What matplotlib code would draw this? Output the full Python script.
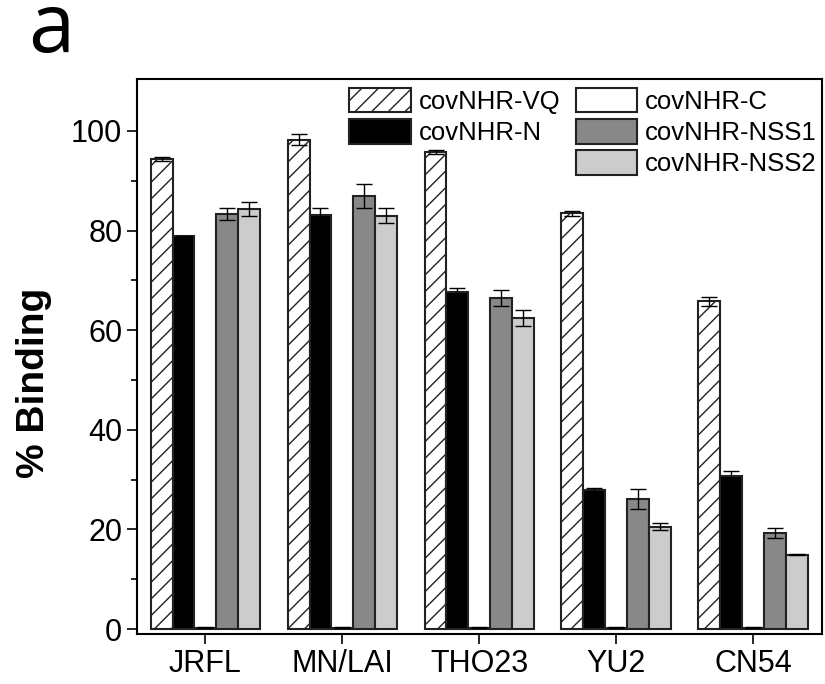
import numpy as np
import matplotlib
matplotlib.use('Agg')
import matplotlib.pyplot as plt
from matplotlib.patches import Rectangle

plt.rcParams['font.family'] = ['Liberation Sans', 'DejaVu Sans']
plt.rcParams['hatch.color'] = '#555555'
plt.rcParams['hatch.linewidth'] = 1.0

strains = ['JRFL', 'MN/LAI', 'THO23', 'YU2', 'CN54']
series = ['covNHR-VQ', 'covNHR-N', 'covNHR-C', 'covNHR-NSS1', 'covNHR-NSS2']

vq = [94.3, 98.2, 95.7, 83.5, 65.8]
vq_err = [0.4, 1.1, 0.4, 0.5, 0.9]
n = [78.9, 83.2, 67.7, 28.0, 30.7]
n_err = [0.1, 1.3, 0.8, 0.3, 1.0]
c = [0.3, 0.3, 0.3, 0.3, 0.3]
c_err = [0.1, 0.1, 0.1, 0.1, 0.1]
nss1 = [83.4, 87.0, 66.5, 26.1, 19.3]
nss1_err = [1.2, 2.4, 1.6, 2.0, 1.0]
nss2 = [84.3, 83.0, 62.5, 20.5, 14.9]
nss2_err = [1.4, 1.5, 1.6, 0.7, 0.1]

values = [vq, n, c, nss1, nss2]
errors = [vq_err, n_err, c_err, nss1_err, nss2_err]
faces = ['white', 'black', 'white', '#888888', '#cccccc']
hatches = ['//', None, None, None, None]

fig = plt.figure(figsize=(8.25, 6.84), dpi=100)
ax = fig.add_axes([0.166, 0.073, 0.83, 0.812])

x = np.arange(len(strains))
w = 0.16
handles = []
for i in range(5):
    pos = x + (i - 2) * w
    b = ax.bar(pos, values[i], w, color=faces[i], edgecolor='#222222',
               linewidth=1.5, hatch=hatches[i], label=series[i], zorder=2)
    ax.errorbar(pos, values[i], yerr=errors[i], fmt='none', ecolor='black',
                elinewidth=1, capsize=6, capthick=1, zorder=3)
    handles.append(b)

blank = Rectangle((0, 0), 1, 1, fc='none', ec='none')
order = [handles[0], handles[1], blank, handles[2], handles[3], handles[4]]
labels = [series[0], series[1], '', series[2], series[3], series[4]]
ax.legend(order, labels, ncol=2, frameon=False, fontsize=18.5,
          loc='upper left', bbox_to_anchor=(0.297, 1.0),
          handlelength=2.4, handleheight=1.1, handletextpad=0.3,
          columnspacing=0.6, labelspacing=0.2, borderaxespad=0.15,
          borderpad=0.2)

ax.set_xlim(-0.5, 4.5)
ax.set_ylim(-1, 110.5)
ax.set_xticks(x)
ax.set_xticklabels(strains, fontsize=22)
ax.set_yticks(np.arange(0, 101, 20))
ax.set_yticks(np.arange(0, 101, 10), minor=True)
ax.tick_params(axis='y', labelsize=22, direction='out', length=7, width=1.2)
ax.tick_params(axis='y', which='minor', direction='out', length=4, width=1.2)
ax.tick_params(axis='x', direction='out', length=7, width=1.2)
for sp in ax.spines.values():
    sp.set_linewidth(1.5)
ax.set_ylabel('% Binding', fontsize=28, fontweight='bold')
ax.yaxis.set_label_coords(-0.124, 0.452)

fig.text(0.034, 0.924, 'a', fontsize=60, va='baseline',
         family=['Open Sans', 'DejaVu Sans'])

fig.savefig('out.png', dpi=100)
